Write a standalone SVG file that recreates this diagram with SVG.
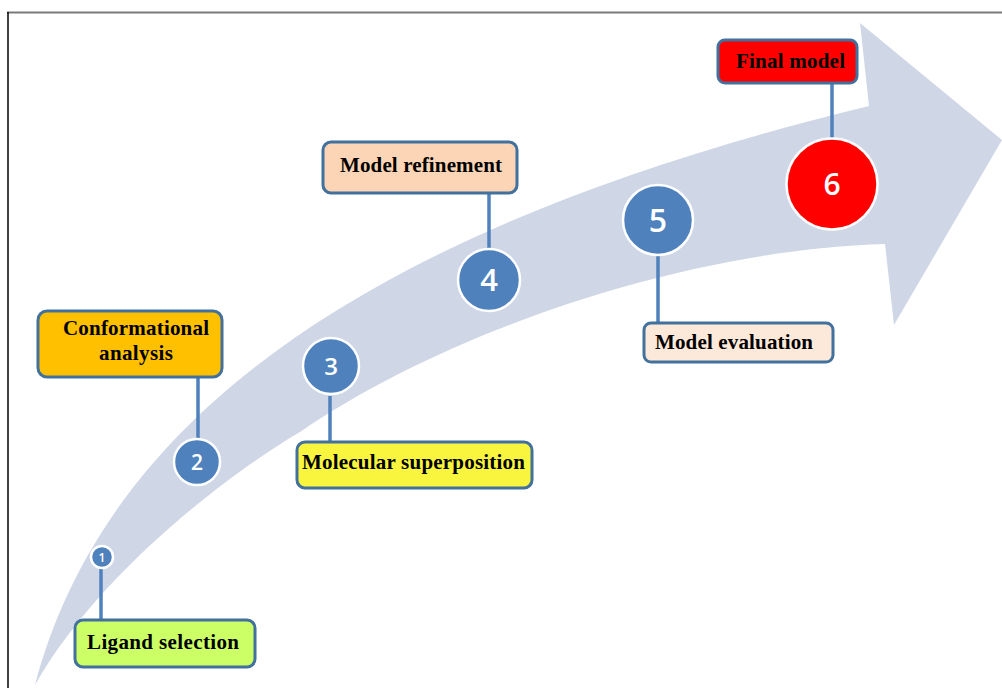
<svg xmlns="http://www.w3.org/2000/svg" width="1002" height="688" viewBox="0 0 1002 688">
  <style>
    .box { stroke: #41719c; stroke-width: 3; }
    .lbl { font-family: "Liberation Serif", "Times New Roman", serif; font-weight: bold; font-size: 21px; fill: #000; }
    .step { fill: #4f81bd; stroke: #ffffff; stroke-width: 2.5; }
    .num { font-family: "Open Sans", "Liberation Sans", sans-serif; font-weight: 600; fill: #ffffff; text-anchor: middle; }
    .link { stroke: #4f81bd; stroke-width: 3.5; fill: none; }
  </style>
  <rect x="0" y="0" width="1002" height="688" fill="#ffffff"/>
  <!-- frame -->
  <line x1="7" y1="12.5" x2="1002" y2="12.5" stroke="#7a7a7a" stroke-width="2"/>
  <line x1="8" y1="12" x2="8" y2="688" stroke="#000000" stroke-width="1.5"/>

  <!-- curved progress arrow -->
  <path id="arrow" fill="#cfd7e7"
        d="M35,685 C110,400 400,220 869,106 L860,23 L1002,140 L894,325 L885,244 C680,250 440,335 300,432 C235,470 100,570 35,685 Z"/>

  <!-- connectors -->
  <g id="connectors">
    <line class="link" x1="101" y1="566" x2="101" y2="621"/>
    <line class="link" x1="198" y1="376" x2="198" y2="440"/>
    <line class="link" x1="330" y1="396" x2="330" y2="443"/>
    <line class="link" x1="489" y1="192" x2="489" y2="250"/>
    <line class="link" x1="658" y1="256" x2="658" y2="323"/>
    <line class="link" x1="832" y1="83" x2="832" y2="139"/>
  </g>

  <g id="step1">
    <circle class="step" cx="102" cy="557" r="11"/>
    <text class="num" x="102" y="561.5" font-size="12">1</text>
    <rect class="box" x="75" y="620" width="180" height="47" rx="8" fill="#ccff66"/>
    <text class="lbl" x="87" y="649" textLength="152">Ligand selection</text>
  </g>

  <g id="step2">
    <circle class="step" cx="197" cy="462" r="23"/>
    <text class="num" x="197" y="469.5" font-size="21">2</text>
    <rect class="box" x="38" y="311" width="184" height="66" rx="9" fill="#ffc000"/>
    <text class="lbl" x="63" y="335" textLength="146">Conformational</text>
    <text class="lbl" x="99" y="360" textLength="74">analysis</text>
  </g>

  <g id="step3">
    <circle class="step" cx="331" cy="366" r="28"/>
    <text class="num" x="331" y="374.5" font-size="24">3</text>
    <rect class="box" x="297" y="442" width="235" height="46" rx="8" fill="#f9f53e"/>
    <text class="lbl" x="302" y="469" textLength="223">Molecular superposition</text>
  </g>

  <g id="step4">
    <circle class="step" cx="489" cy="280" r="31"/>
    <text class="num" x="489" y="291" font-size="31">4</text>
    <rect class="box" x="323" y="142" width="194" height="51" rx="8" fill="#fbd5b5"/>
    <text class="lbl" x="340" y="172" textLength="162">Model refinement</text>
  </g>

  <g id="step5">
    <circle class="step" cx="658" cy="220" r="35"/>
    <text class="num" x="658" y="231.5" font-size="32">5</text>
    <rect class="box" x="644" y="323" width="189" height="39" rx="7" fill="#fde9d9"/>
    <text class="lbl" x="655" y="349" textLength="158">Model evaluation</text>
  </g>

  <g id="step6">
    <circle class="step" cx="832" cy="184" r="45.5" style="fill:#ff0000"/>
    <text class="num" x="832" y="195" font-size="30">6</text>
    <rect class="box" x="718" y="40" width="139" height="43" rx="7" fill="#ff0000"/>
    <text class="lbl" x="736" y="68" textLength="109">Final model</text>
  </g>
</svg>
